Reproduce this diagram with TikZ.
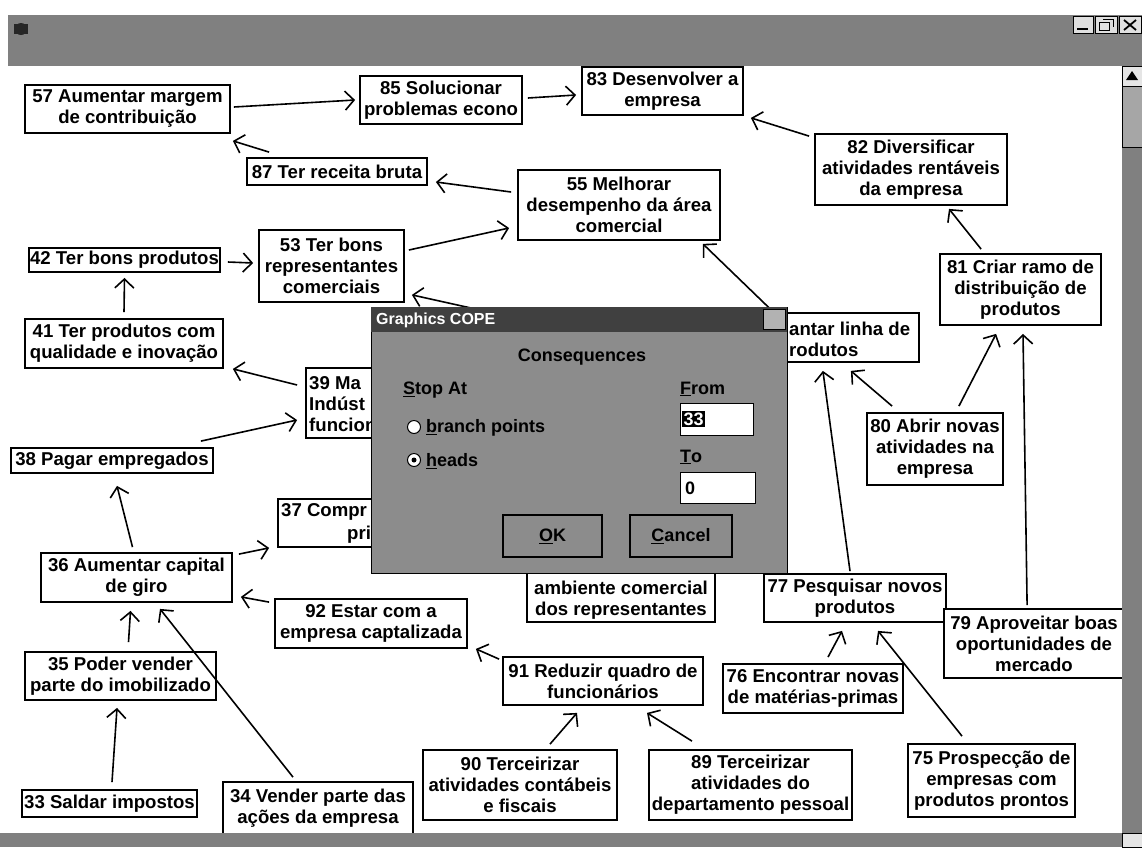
\documentclass[tikz,border=0pt]{standalone}
\usepackage{fontspec}
\setmainfont{Liberation Sans}
\usetikzlibrary{arrows.meta,calc}
\newcommand\mapfont{\fontsize{18.6}{21}\selectfont\bfseries}
\newcommand\dlgfont{\fontsize{18}{21}\selectfont\bfseries}
\newcommand\dlgtitlefont{\fontsize{16}{19}\selectfont\bfseries}
\begin{document}
\begin{tikzpicture}[x=1pt,y=-1pt,
  box/.style={draw=black,line width=1.8pt,fill=white,inner sep=1pt,align=center,font=\mapfont},
  sz/.style 2 args={minimum width=#1pt,minimum height=#2pt},
  frag/.style={inner sep=0pt,align=left,font=\mapfont},
  link/.style={line width=1.6pt,-{Straight Barb[length=9pt,width=19pt,line width=1.6pt]}},
  dtext/.style={inner sep=0pt,font=\dlgfont,anchor=west},
  chrome/.style={black!50},
]
\useasboundingbox (0,0) rectangle (1142,847);
\fill[white] (0,0) rectangle (1142,847);

% ---- concept boxes ----
\node[box,sz={205}{48}] (n57) at (127.5,109) {57 Aumentar margem\\de contribuição};
\node[box,sz={162}{48}] (n85) at (441,100) {85 Solucionar\\problemas econo};
\node[box,sz={161}{48}] (n83) at (662.5,91) {83 Desenvolver a\\empresa};
\node[box,sz={180}{27}] (n87) at (337,171.5) {87 Ter receita bruta};
\node[box,sz={202}{70}] (n55) at (619,205) {55 Melhorar\\desempenho da área\\comercial};
\node[box,sz={192}{71}] (n82) at (911,169.5) {82 Diversificar\\atividades rentáveis\\da empresa};
\node[box,sz={191}{24}] (n42) at (124.5,260) {42 Ter bons produtos};
\node[box,sz={145}{72}] (n53) at (331.5,266) {53 Ter bons\\representantes\\comerciais};
\node[box,sz={198}{49}] (n41) at (124,343.5) {41 Ter produtos com\\qualidade e inovação};
\node[box,sz={164}{70}] (n39) at (388,403) {};
\node[frag,anchor=west] (n39t) at (309,404) {39 Ma\\Indúst\\funcion};
\node[box,sz={202}{25}] (n38) at (112,460.5) {38 Pagar empregados};
\node[box,sz={161}{71}] (n81) at (1020.5,289.5) {81 Criar ramo de\\distribuição de\\produtos};
\node[box,sz={219}{49}] (n78) at (809.5,337.5) {};
\node[frag,anchor=west] (n78t) at (789,339) {antar linha de\\rodutos};
\node[box,sz={136}{72}] (n80) at (935,449) {80 Abrir novas\\atividades na\\empresa};
\node[box,sz={192}{48}] (n37) at (374,523) {};
\node[frag,anchor=west] (n37a) at (281,512) {37 Compr};
\node[frag,anchor=west] (n37b) at (347,535) {pri};
\node[box,sz={191}{49}] (n36) at (136.5,577.5) {36 Aumentar capital\\de giro};
\node[box,sz={192}{49}] (n92) at (371,623.5) {92 Estar com a\\empresa captalizada};
\node[box,sz={191}{48}] (n35) at (120.5,676) {35 Poder vender\\parte do imobilizado};
\node[box,sz={175}{27}] (n33) at (109.5,803.5) {33 Saldar impostos};
\node[box,sz={190}{52}] (n34) at (318,808) {34 Vender parte das\\ações da empresa};
\node[box,sz={188}{72}] (namb) at (621,586) {};
\node[frag,align=center] (nambt) at (621,600) {ambiente comercial\\dos representantes};
\node[box,sz={200}{48}] (n91) at (603,681) {91 Reduzir quadro de\\funcionários};
\node[box,sz={194}{70}] (n90) at (520,785) {90 Terceirizar\\atividades contábeis\\e fiscais};
\node[box,sz={203}{70}] (n89) at (750.5,785) {89 Terceirizar\\atividades do\\departamento pessoal};
\node[box,sz={182}{48}] (n77) at (855,598) {77 Pesquisar novos\\produtos};
\node[box,sz={180}{69}] (n79) at (1034,643.5) {79 Aproveitar boas\\oportunidades de\\mercado};
\node[box,sz={180}{49}] (n76) at (813,688.5) {76 Encontrar novas\\de matérias-primas};
\node[box,sz={167}{73}] (n75) at (991.5,780.5) {75 Prospecção de\\empresas com\\produtos prontos};

% ---- links ----
\draw[link] ($(n57.east)+(3,-2)$) -- ($(n85.west)+(-4,0)$);
\draw[link] ($(n85.east)+(5,-2)$) -- ($(n83.west)+(-5,4)$);
\draw[link] ($(n82.north west)+(-5,3)$) -- ($(n83.south east)+(7,2)$);
\draw[link] ($(n87.north west)+(23,-5)$) -- ($(n57.south east)+(2,7)$);
\draw[link] ($(n55.west)+(-6,-13)$) -- ($(n87.east)+(8,10.5)$);
\draw[link] ($(n53.east)+(4,-16)$) -- ($(n55.west)+(-8,23)$);
\draw[link] ($(n42.east)+(7,2)$) -- ($(n53.west)+(-5,-3)$);
\draw[link] ($(n41.north)+(0,-6)$) -- ($(n42.south)+(0,5)$);
\draw[link] ($(n39.west)+(-8,-18)$) -- ($(n41.south east)+(9,0)$);
\draw[link] ($(n38.north east)+(-13,-6)$) -- ($(n39.west)+(-8,17)$);
\coordinate (c53) at (480,310);
\draw[link] (c53) -- ($(n53.south east)+(7,-8)$);
\draw[link] ($(n78.north)+(-36,0)$) -- ($(n55.south east)+(-18,3)$);
\draw[link] ($(n81.north west)+(42,-4)$) -- ($(n82.south)+(38,3)$);
\draw[link] ($(n80.north west)+(26,-6)$) -- ($(n78.south east)+(-69,8)$);
\draw[link] ($(n80.north east)+(-45,-6)$) -- ($(n81.south west)+(57,8)$);
\draw[link] ($(n79.north west)+(84,-3)$) -- ($(n81.south)+(2.5,8)$);
\draw[link] ($(n77.north)+(-5,-2)$) -- ($(n78.south east)+(-97,8)$);
\draw[link] ($(n36.north)+(-4,-5)$) -- ($(n38.south)+(5,12)$);
\draw[link] ($(n36.north east)+(6,2)$) -- ($(n37.south west)+(-8,0)$);
\draw[link] ($(n92.north west)+(-5,4)$) -- ($(n36.south east)+(8,-6)$);
\draw[link] ($(n35.north)+(8,-9)$) -- ($(n36.south)+(-6,8)$);
\draw[link] ($(n34.north)+(-25,-4)$) -- ($(n36.south)+(23.5,6)$);
\draw[link] ($(n33.north)+(2.5,-7)$) -- ($(n35.south)+(-3.5,7)$);
\draw[link] ($(n91.north west)+(-3,3)$) -- ($(n92.south east)+(8,0)$);
\draw[link] ($(n90.north)+(30,-5)$) -- ($(n91.south)+(-26,7)$);
\draw[link] ($(n89.north)+(-58.5,-8)$) -- ($(n91.south)+(44,7)$);
\draw[link] ($(n76.north)+(15,-6)$) -- ($(n77.south)+(-13,8)$);
\draw[link] ($(n75.north)+(-29.5,-7)$) -- ($(n77.south)+(23,8)$);

% ---- window frame ----
\fill[chrome] (8,15) rectangle (1142,66);
\fill[black!85] (21,29) circle (6);
\fill[black!85] (14,24) rectangle (28,34);
\draw[fill=black!12,line width=0.8pt] (1073,16) rectangle (1093,33);
\draw[line width=1.6pt] (1077,29) -- (1088,29);
\draw[fill=black!12,line width=0.8pt] (1095,16) rectangle (1117,33);
\draw[line width=1pt] (1099,22) rectangle (1109,30);
\draw[line width=1pt] (1103,19) -- (1113,19) -- (1113,27);
\draw[fill=black!12,line width=0.8pt] (1119,16) rectangle (1141,33);
\draw[line width=1.8pt] (1124,20) -- (1136,30) (1124,30) -- (1136,20);
\fill[chrome] (1122,66) rectangle (1142,833);
\draw[fill=black!10,line width=0.8pt] (1122,66) rectangle (1142,86);
\fill (1132,71) -- (1126,80) -- (1138,80) -- cycle;
\draw[fill=black!35,line width=0.8pt] (1122,86) rectangle (1142,147);
\fill[chrome] (0,833) rectangle (1142,847);
\draw[fill=black!10,line width=0.8pt] (1122,833) rectangle (1142,847);

% ---- dialog window ----
\node[draw=black,line width=1.2pt,fill=black!45,minimum width=416pt,minimum height=266pt,inner sep=0pt,anchor=north west] (dlg) at (371,307) {};
\node[fill=black!75,minimum width=416pt,minimum height=25pt,inner sep=0pt,anchor=north west] (dlgbar) at (371,307) {};
\node[inner sep=0pt,text=white,font=\dlgtitlefont,anchor=west] (dlgtitle) at (376,320) {Graphics COPE};
\node[draw=black,line width=0.8pt,fill=black!30,minimum width=22pt,minimum height=20pt,inner sep=0pt] (dlgclose) at (774,319.5) {};
\node[inner sep=0pt,font=\dlgfont] (cons) at (582,357) {Consequences};
\node[dtext] (stop) at (403,390) {\underline{S}top At};
\node[circle,draw=black,line width=1pt,fill=white,minimum size=13pt,inner sep=0pt] (rb1) at (414,427) {};
\node[dtext] (rb1t) at (426,428) {\underline{b}ranch points};
\node[circle,draw=black,line width=1pt,fill=white,minimum size=13pt,inner sep=0pt] (rb2) at (414,460) {};
\node[circle,fill=black,minimum size=5pt,inner sep=0pt] (rb2dot) at (414,460) {};
\node[dtext] (rb2t) at (426,461) {\underline{h}eads};
\node[dtext] (fromlbl) at (680,389) {\underline{F}rom};
\node[draw=black,line width=0.8pt,fill=white,minimum width=73pt,minimum height=32pt,inner sep=0pt,anchor=north west] (fromfld) at (680,403) {};
\node[fill=black,text=white,inner sep=1.5pt,font=\dlgfont,anchor=west] (fromval) at (682,419) {33};
\node[dtext] (tolbl) at (680,457) {\underline{T}o};
\node[draw=black,line width=0.8pt,fill=white,minimum width=75pt,minimum height=31pt,inner sep=0pt,anchor=north west] (tofld) at (680,472) {};
\node[dtext] (toval) at (685,488) {0};
\node[draw=black,line width=1.5pt,fill=black!45,minimum width=99pt,minimum height=42pt,inner sep=0pt,font=\dlgfont] (okbtn) at (552.5,536) {\underline{O}K};
\node[draw=black,line width=1.5pt,fill=black!45,minimum width=102pt,minimum height=42pt,inner sep=0pt,font=\dlgfont] (cancelbtn) at (681,536) {\underline{C}ancel};
\end{tikzpicture}
\end{document}
